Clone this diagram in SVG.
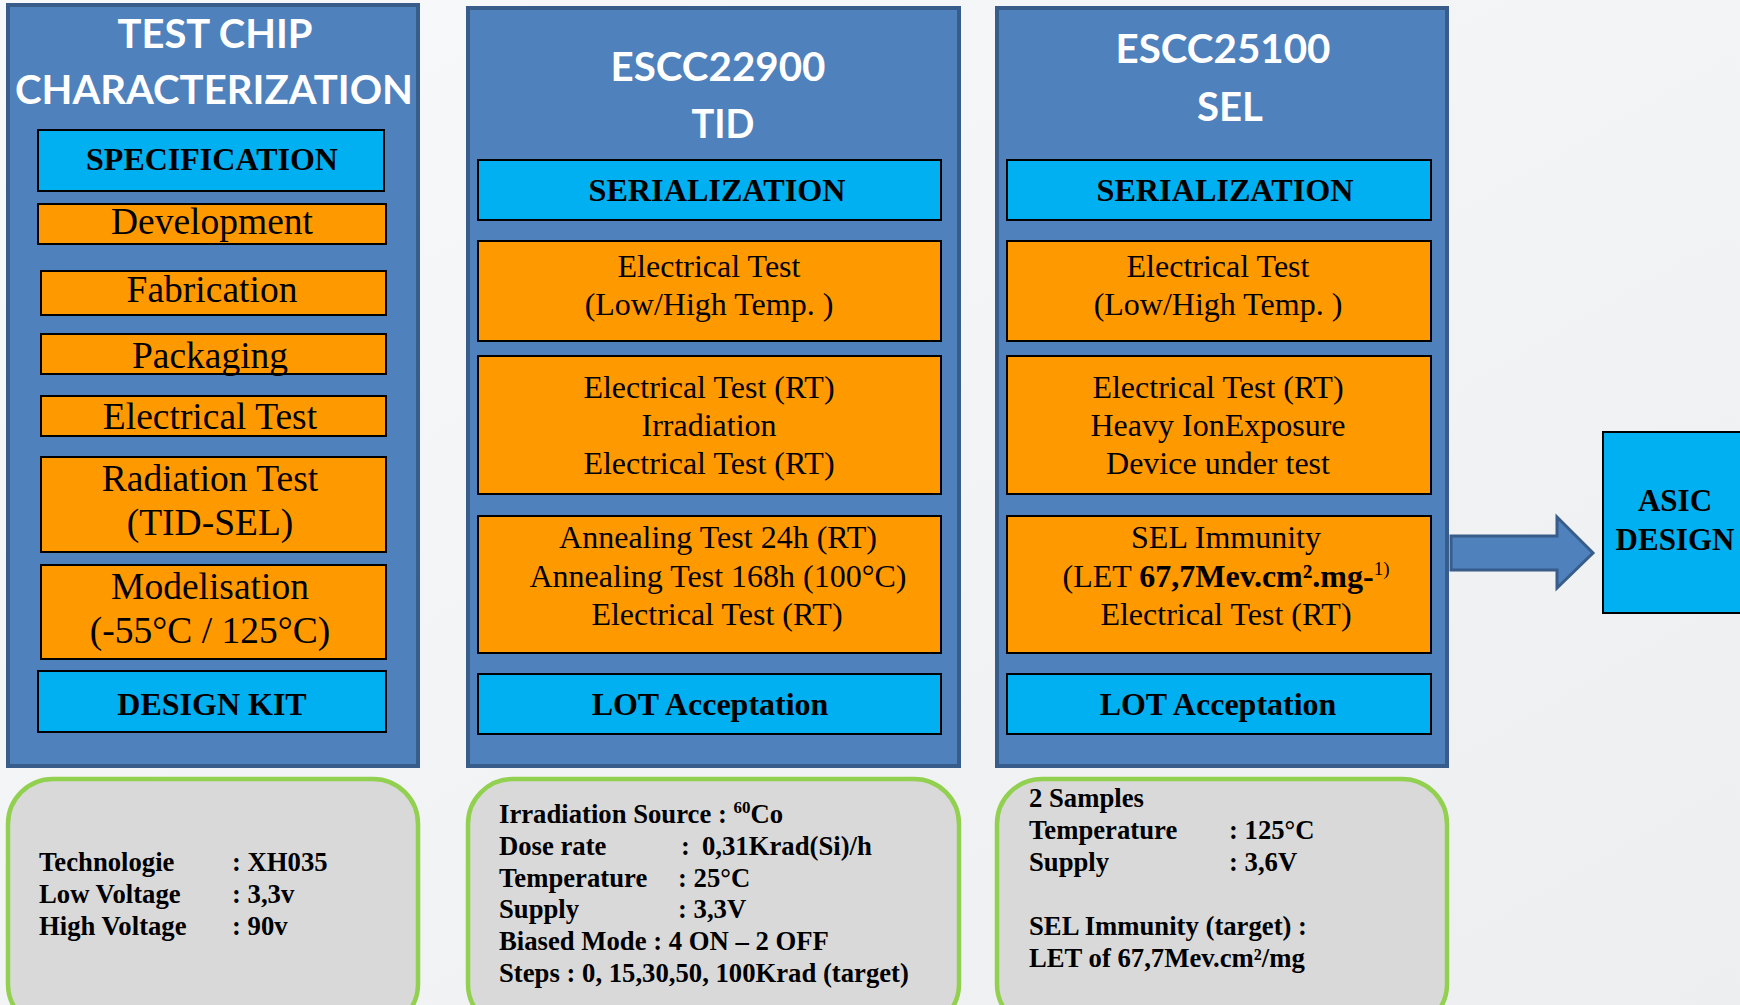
<svg xmlns="http://www.w3.org/2000/svg" width="1740" height="1005" viewBox="0 0 1740 1005">
<defs>
<linearGradient id="bg" x1="0" y1="0" x2="1" y2="1">
<stop offset="0" stop-color="#F8F9FA"/>
<stop offset="1" stop-color="#ECEEF0"/>
</linearGradient>
</defs>
<style>
.col{fill:#4F81BD;stroke:#385D8A;stroke-width:4}
.cy{fill:#00B0F0;stroke:#000;stroke-width:2}
.or{fill:#FF9900;stroke:#000;stroke-width:2}
.note{fill:#D9D9D9;stroke:#92D050;stroke-width:4.5}
.ttl{font-family:Lato,"Open Sans","Liberation Sans",sans-serif;font-weight:bold;font-size:40px;fill:#fff;text-anchor:middle}
.t{font-family:"Liberation Serif","Times New Roman",serif;fill:#000;text-anchor:middle}
.b{font-weight:bold}
.n{font-family:"Liberation Serif","Times New Roman",serif;font-weight:bold;font-size:26.7px;fill:#000}
.arrow{fill:#4F81BD;stroke:#385D8A;stroke-width:3}
</style>
<rect width="1740" height="1005" fill="url(#bg)"/>

<g id="col-testchip">
<rect class="col" x="8" y="5" width="410" height="761"/>
<text class="ttl" x="215" y="48" textLength="195" lengthAdjust="spacingAndGlyphs">TEST CHIP</text>
<text class="ttl" x="214" y="104" textLength="398" lengthAdjust="spacingAndGlyphs">CHARACTERIZATION</text>
</g>
<g id="n-specification"><rect class="cy" x="38" y="130" width="346" height="61"/><text class="t b" x="212" y="170" font-size="32">SPECIFICATION</text></g>
<g id="n-development"><rect class="or" x="38" y="204" width="348" height="40"/><text class="t" x="212" y="234" font-size="37.5">Development</text></g>
<g id="n-fabrication"><rect class="or" x="41" y="271" width="345" height="44"/><text class="t" x="212" y="302" font-size="37.5">Fabrication</text></g>
<g id="n-packaging"><rect class="or" x="41" y="334" width="345" height="40"/><text class="t" x="210" y="368" font-size="37.5">Packaging</text></g>
<g id="n-electrical"><rect class="or" x="41" y="396" width="345" height="40"/><text class="t" x="210" y="429" font-size="37.5">Electrical Test</text></g>
<g id="n-radiation"><rect class="or" x="41" y="457" width="345" height="95"/><text class="t" x="210" y="491" font-size="37.5">Radiation Test</text><text class="t" x="210" y="535" font-size="37.5">(TID-SEL)</text></g>
<g id="n-modelisation"><rect class="or" x="41" y="565" width="345" height="94"/><text class="t" x="210" y="599" font-size="37.5">Modelisation</text><text class="t" x="210" y="643" font-size="37.5">(-55°C / 125°C)</text></g>
<g id="n-designkit"><rect class="cy" x="38" y="671" width="348" height="61"/><text class="t b" x="212" y="715" font-size="32">DESIGN KIT</text></g>

<g id="col-tid">
<rect class="col" x="468" y="8" width="491" height="758"/>
<text class="ttl" x="718" y="81" textLength="215" lengthAdjust="spacingAndGlyphs">ESCC22900</text>
<text class="ttl" x="723" y="138" textLength="63" lengthAdjust="spacingAndGlyphs">TID</text>
</g>
<g id="n-tid-serial"><rect class="cy" x="478" y="160" width="463" height="60"/><text class="t b" x="717" y="201" font-size="32.2">SERIALIZATION</text></g>
<g id="n-tid-elec"><rect class="or" x="478" y="241" width="463" height="100"/><text class="t" x="709" y="277" font-size="32">Electrical Test</text><text class="t" x="709" y="315" font-size="32">(Low/High Temp. )</text></g>
<g id="n-tid-irr"><rect class="or" x="478" y="356" width="463" height="138"/><text class="t" x="709" y="398" font-size="32">Electrical Test (RT)</text><text class="t" x="709" y="436" font-size="32">Irradiation</text><text class="t" x="709" y="474" font-size="32">Electrical Test (RT)</text></g>
<g id="n-tid-ann"><rect class="or" x="478" y="516" width="463" height="137"/><text class="t" x="718" y="548" font-size="32">Annealing Test 24h (RT)</text><text class="t" x="718" y="587" font-size="32">Annealing Test 168h (100°C)</text><text class="t" x="717" y="625" font-size="32">Electrical Test (RT)</text></g>
<g id="n-tid-lot"><rect class="cy" x="478" y="674" width="463" height="60"/><text class="t b" x="710" y="715" font-size="32">LOT Acceptation</text></g>

<g id="col-sel">
<rect class="col" x="997" y="8" width="450" height="758"/>
<text class="ttl" x="1223" y="63" textLength="215" lengthAdjust="spacingAndGlyphs">ESCC25100</text>
<text class="ttl" x="1230" y="121" textLength="66" lengthAdjust="spacingAndGlyphs">SEL</text>
</g>
<g id="n-sel-serial"><rect class="cy" x="1007" y="160" width="424" height="60"/><text class="t b" x="1225" y="201" font-size="32.2">SERIALIZATION</text></g>
<g id="n-sel-elec"><rect class="or" x="1007" y="241" width="424" height="100"/><text class="t" x="1218" y="277" font-size="32">Electrical Test</text><text class="t" x="1218" y="315" font-size="32">(Low/High Temp. )</text></g>
<g id="n-sel-heavy"><rect class="or" x="1007" y="356" width="424" height="138"/><text class="t" x="1218" y="398" font-size="32">Electrical Test (RT)</text><text class="t" x="1218" y="436" font-size="32">Heavy IonExposure</text><text class="t" x="1218" y="474" font-size="32">Device under test</text></g>
<g id="n-sel-imm"><rect class="or" x="1007" y="516" width="424" height="137"/><text class="t" x="1226" y="548" font-size="32">SEL Immunity</text><text class="t" x="1226" y="587" font-size="32">(LET <tspan font-weight="bold">67,7Mev.cm².mg-</tspan><tspan font-size="19" dy="-12">1)</tspan></text><text class="t" x="1226" y="625" font-size="32">Electrical Test (RT)</text></g>
<g id="n-sel-lot"><rect class="cy" x="1007" y="674" width="424" height="60"/><text class="t b" x="1218" y="715" font-size="32">LOT Acceptation</text></g>

<g id="note-testchip">
<rect class="note" x="8" y="779" width="410" height="250" rx="45"/>
<text class="n" x="39" y="871">Technologie</text><text class="n" x="232" y="871">: XH035</text>
<text class="n" x="39" y="903">Low Voltage</text><text class="n" x="232" y="903">: 3,3v</text>
<text class="n" x="39" y="935">High Voltage</text><text class="n" x="232" y="935">: 90v</text>
</g>
<g id="note-tid">
<rect class="note" x="468" y="779" width="491" height="250" rx="45"/>
<text class="n" x="499" y="823">Irradiation Source : <tspan font-size="17" dy="-10">60</tspan><tspan dy="10">Co</tspan></text>
<text class="n" x="499" y="855">Dose rate</text><text class="n" x="681" y="855">:</text><text class="n" x="702" y="855">0,31Krad(Si)/h</text>
<text class="n" x="499" y="887">Temperature</text><text class="n" x="678" y="887">: 25°C</text>
<text class="n" x="499" y="918">Supply</text><text class="n" x="678" y="918">: 3,3V</text>
<text class="n" x="499" y="950">Biased Mode : 4 ON – 2 OFF</text>
<text class="n" x="499" y="982">Steps : 0, 15,30,50, 100Krad (target)</text>
</g>
<g id="note-sel">
<rect class="note" x="997" y="779" width="450" height="250" rx="45"/>
<text class="n" x="1029" y="807">2 Samples</text>
<text class="n" x="1029" y="839">Temperature</text><text class="n" x="1229" y="839">: 125°C</text>
<text class="n" x="1029" y="871">Supply</text><text class="n" x="1229" y="871">: 3,6V</text>
<text class="n" x="1029" y="935">SEL Immunity (target) :</text>
<text class="n" x="1029" y="967">LET of 67,7Mev.cm²/mg</text>
</g>

<g id="connectors">
<polygon class="arrow" points="1451,536 1557,536 1557,517 1593,553 1557,588 1557,570 1451,570"/>
</g>

<g id="n-asic">
<rect x="1603" y="432" width="145" height="181" fill="#00B0F0" stroke="#000" stroke-width="2"/>
<text class="t b" x="1675" y="511" font-size="31">ASIC</text>
<text class="t b" x="1675" y="550" font-size="31">DESIGN</text>
</g>
</svg>
